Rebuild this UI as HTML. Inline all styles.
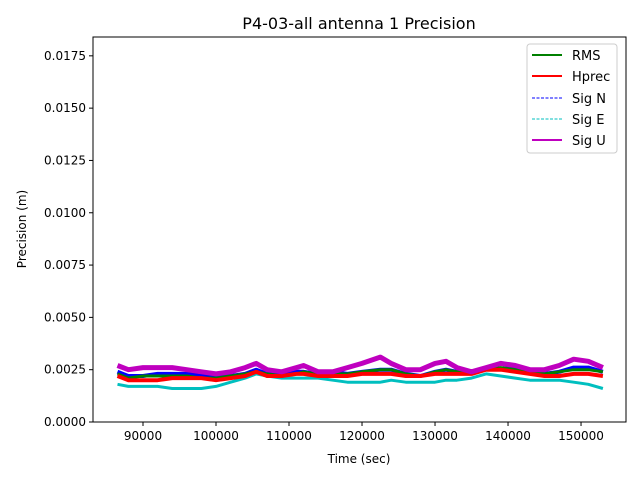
<!DOCTYPE html>
<html><head><meta charset="utf-8"><style>
body{margin:0;background:#fff;font-family:"DejaVu Sans","Liberation Sans",sans-serif;}
svg text{font-family:"DejaVu Sans","Liberation Sans",sans-serif;}
</style></head><body>
<svg id="chart" width="640" height="480" xmlns="http://www.w3.org/2000/svg">
<rect width="640" height="480" fill="#fff"/>
<text x="359" y="29" font-size="16" text-anchor="middle">P4-03-all antenna 1 Precision</text>
<g id="plot"></g>
<rect x="93" y="37" width="533" height="385" fill="none" stroke="#000" stroke-width="1"/>
<g id="xt"></g>
<g id="yt"></g>
<text x="359" y="463" font-size="12" text-anchor="middle">Time (sec)</text>
<text x="26" y="229" font-size="12" text-anchor="middle" transform="rotate(-90 26 229)">Precision (m)</text>
<g>
<rect x="527" y="44" width="90" height="109" rx="3" fill="#fff" stroke="#ccc"/>
<g><line x1="532" y1="55" x2="562" y2="55" stroke="#008000" stroke-width="2"/><text x="572" y="60" font-size="13">RMS</text></g>
<g><line x1="532" y1="76" x2="562" y2="76" stroke="#ff0000" stroke-width="2"/><text x="572" y="81" font-size="13">Hprec</text></g>
<g><line x1="532" y1="98" x2="562" y2="98" stroke="#0000ff" stroke-width="1" stroke-dasharray="3,1.5"/><text x="572" y="103" font-size="13">Sig N</text></g>
<g><line x1="532" y1="119" x2="562" y2="119" stroke="#00bfbf" stroke-width="1" stroke-dasharray="3,1.5"/><text x="572" y="124" font-size="13">Sig E</text></g>
<g><line x1="532" y1="140" x2="562" y2="140" stroke="#bf00bf" stroke-width="2"/><text x="572" y="145" font-size="13">Sig U</text></g>
</g>
</svg>
<script>
const times=[86500,88000,90000,92000,94000,96000,98000,100000,102000,104000,105500,107000,109000,111000,112000,114000,116000,118000,120000,122500,124000,126000,128000,130000,131500,133000,135000,137000,139000,141000,143000,145000,147000,149000,151000,153000];
const sigU=[0.0027,0.0025,0.0026,0.0026,0.0026,0.0025,0.0024,0.0023,0.0024,0.0026,0.0028,0.0025,0.0024,0.0026,0.0027,0.0024,0.0024,0.0026,0.0028,0.0031,0.0028,0.0025,0.0025,0.0028,0.0029,0.0026,0.0024,0.0026,0.0028,0.0027,0.0025,0.0025,0.0027,0.0030,0.0029,0.0026];
const sigN=[0.0024,0.0022,0.0022,0.0023,0.0023,0.0023,0.0022,0.0022,0.0022,0.0023,0.0025,0.0023,0.0022,0.0024,0.0024,0.0023,0.0024,0.0023,0.0024,0.0025,0.0025,0.0023,0.0022,0.0024,0.0025,0.0024,0.0024,0.0026,0.0028,0.0026,0.0024,0.0023,0.0024,0.0026,0.0026,0.0024];
const rms=[0.0023,0.0021,0.0022,0.0022,0.0022,0.0022,0.0021,0.0021,0.0022,0.0023,0.0024,0.0023,0.0022,0.0023,0.0024,0.0023,0.0023,0.0023,0.0024,0.0025,0.0025,0.0023,0.0022,0.0024,0.0025,0.0024,0.0024,0.0025,0.0026,0.0025,0.0024,0.0023,0.0024,0.0025,0.0025,0.0024];
const hprec=[0.0022,0.0020,0.0020,0.0020,0.0021,0.0021,0.0021,0.0020,0.0021,0.0022,0.0024,0.0022,0.0022,0.0023,0.0023,0.0022,0.0022,0.0022,0.0023,0.0023,0.0023,0.0022,0.0022,0.0023,0.0023,0.0023,0.0023,0.0025,0.0025,0.0024,0.0023,0.0022,0.0022,0.0023,0.0023,0.0022];
const sigE=[0.0018,0.0017,0.0017,0.0017,0.0016,0.0016,0.0016,0.0017,0.0019,0.0021,0.0023,0.0022,0.0021,0.0021,0.0021,0.0021,0.0020,0.0019,0.0019,0.0019,0.0020,0.0019,0.0019,0.0019,0.0020,0.0020,0.0021,0.0023,0.0022,0.0021,0.0020,0.0020,0.0020,0.0019,0.0018,0.0016];
const xTicks=[90000,100000,110000,120000,130000,140000,150000];
const yTicks=[0,0.0025,0.005,0.0075,0.01,0.0125,0.015,0.0175];
const xMin=83150,xMax=156160,yMin=0,yMax=0.0184;
const L=93,R=626,T=37,B=422;
const xs=v=>L+(v-xMin)/(xMax-xMin)*(R-L);
const ys=v=>B-(v-yMin)/(yMax-yMin)*(B-T);
const NS="http://www.w3.org/2000/svg";
const plot=document.getElementById('plot');
function series(vals,color,width,dash,name){
  const p=document.createElementNS(NS,'path');
  p.setAttribute('d',vals.map((v,i)=>(i?'L':'M')+xs(times[i]).toFixed(1)+','+ys(v).toFixed(1)).join(''));
  p.setAttribute('fill','none');p.setAttribute('stroke',color);p.setAttribute('stroke-width',width);
  p.setAttribute('stroke-linejoin','round');
  if(dash)p.setAttribute('stroke-dasharray',dash);
  
  
  plot.appendChild(p);
}
series(sigE,'#00bfbf',3,null,'sig-e-line');
series(sigN,'#0000ff',4,null,'sig-n-line');
series(rms,'#008000',3,null,'rms-line');
series(hprec,'#ff0000',4,null,'hprec-line');
series(sigU,'#bf00bf',5,null,'sig-u-line');
const xt=document.getElementById('xt'),yt=document.getElementById('yt');
xTicks.forEach(v=>{
  const x=xs(v);
  const l=document.createElementNS(NS,'line');
  l.setAttribute('x1',x);l.setAttribute('x2',x);l.setAttribute('y1',B);l.setAttribute('y2',B+4);l.setAttribute('stroke','#000');
  
  
  xt.appendChild(l);
  const t=document.createElementNS(NS,'text');
  t.setAttribute('x',x);t.setAttribute('y',B+18);t.setAttribute('font-size','12');t.setAttribute('text-anchor','middle');
  t.textContent=v;
  
  
  xt.appendChild(t);
});
yTicks.forEach(v=>{
  const y=ys(v);
  const l=document.createElementNS(NS,'line');
  l.setAttribute('x1',L-4);l.setAttribute('x2',L);l.setAttribute('y1',y);l.setAttribute('y2',y);l.setAttribute('stroke','#000');
  
  
  yt.appendChild(l);
  const t=document.createElementNS(NS,'text');
  t.setAttribute('x',L-7);t.setAttribute('y',y+4);t.setAttribute('font-size','12');t.setAttribute('text-anchor','end');
  t.textContent=v.toFixed(4);
  
  
  yt.appendChild(t);
});
</script>
</body></html>
